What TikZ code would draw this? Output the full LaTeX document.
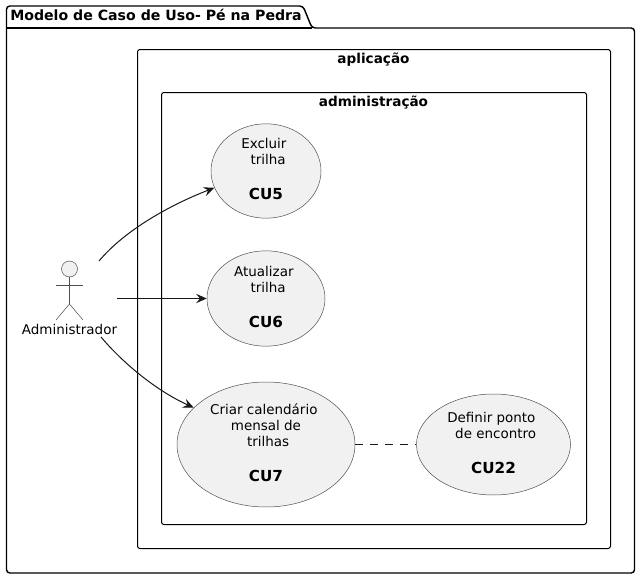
\documentclass[tikz,border=0pt]{standalone}
\usepackage{fontspec}
\setmainfont{DejaVu Sans}
\usetikzlibrary{shapes.geometric,arrows.meta}
\definecolor{ucfill}{HTML}{F1F1F1}
\definecolor{ink}{HTML}{181818}
\definecolor{thin}{HTML}{505050}
\newcommand{\pd}{\kern3.2pt}
\newcommand{\cuname}[1]{{\fontsize{11.4}{14}\selectfont\bfseries #1}}
\tikzset{
  x=0.75pt,y=-0.75pt,
  usecase/.style={ellipse,draw=thin,fill=ucfill,line width=0.375pt,inner sep=0pt,align=center,
    font=\fontsize{10.1}{12}\selectfont},
  frame/.style={draw=black,line width=0.75pt,rounded corners=1.8pt},
  framelabel/.style={font=\fontsize{10.2}{12}\selectfont\bfseries,inner sep=0pt,anchor=base},
  link/.style={draw=ink,line width=0.75pt,-{Stealth[length=8pt,width=7pt,inset=3pt]}},
  actorline/.style={draw=thin,line width=0.375pt},
}
\begin{document}
\begin{tikzpicture}
\useasboundingbox (0,0) rectangle (640,578);
\fill[white] (0,0) rectangle (640,578);
% package
\draw[draw=black,line width=1.1pt,rounded corners=2.5pt]
  (6.5,28) -- (6.5,6) -- (303,6) -- (312,28) -- (634.5,28) -- (634.5,573) -- (6.5,573) -- cycle;
\draw[draw=black,line width=1.1pt] (6.5,28) -- (312,28);
\node[framelabel,font=\fontsize{10.6}{12}\selectfont\bfseries,anchor=base west] (pkg) at (10,20.5) {Modelo de Caso de Uso- Pé na Pedra};
% rectangles
\node[frame,minimum width=354.75pt,minimum height=374.25pt,inner sep=0pt,anchor=north west] (app) at (137,49) {};
\node[framelabel] (applabel) at (373.5,63) {aplicação};
\node[frame,minimum width=318.75pt,minimum height=324pt,inner sep=0pt,anchor=north west] (adm) at (161,92) {};
\node[framelabel] (admlabel) at (373.5,106) {administração};
% use cases
\node[usecase,minimum width=82.5pt,minimum height=67.5pt] (cu5) at (266,171)
  {\raisebox{2.4pt}{\begin{tabular}{@{}c@{}}Excluir\pd\\\pd trilha\\[14pt]\cuname{CU5}\end{tabular}}};
\node[usecase,minimum width=88.5pt,minimum height=71.5pt] (cu6) at (266,298.5)
  {\raisebox{2.4pt}{\begin{tabular}{@{}c@{}}Atualizar\pd\\\pd trilha\\[14pt]\cuname{CU6}\end{tabular}}};
\node[usecase,minimum width=133.5pt,minimum height=93.75pt] (cu7) at (266,444.5)
  {\raisebox{2.4pt}{\begin{tabular}{@{}c@{}}Criar calendário\pd\\mensal de\\\pd trilhas\\[14pt]\cuname{CU7}\end{tabular}}};
\node[usecase,minimum width=115.5pt,minimum height=75.75pt] (cu22) at (493.5,444.5)
  {\raisebox{2.4pt}{\begin{tabular}{@{}c@{}}Definir ponto\pd\\\pd de encontro\\[14pt]\cuname{CU22}\end{tabular}}};
% actor
\node[circle,draw=thin,fill=ucfill,line width=0.375pt,minimum size=12pt,inner sep=0pt] (head) at (69.5,269) {};
\coordinate (hip) at (69.5,304);
\coordinate (armL) at (56,285);
\coordinate (armR) at (83,285);
\coordinate (legL) at (56,320);
\coordinate (legR) at (83,320);
\draw[actorline] (head.south) -- (hip);
\draw[actorline] (armL) -- (armR);
\draw[actorline] (legL) -- (hip) -- (legR);
\node[font=\fontsize{10.1}{12}\selectfont,inner sep=0pt,anchor=base] (admin) at (69.5,334) {Administrador};
% connectors
\coordinate (s1) at (99,261);
\coordinate (s2) at (117,298.5);
\coordinate (s3) at (101,337);
\draw[link] (s1) .. controls (125,230) and (170,205) .. (cu5.198);
\draw[link] (s2) -- (cu6.west);
\draw[link] (s3) .. controls (122,362) and (155,390) .. (cu7.153);
\draw[draw=ink,line width=0.75pt,dash pattern=on 5.6pt off 5.6pt] (cu7.east) -- (cu22.west);
\end{tikzpicture}
\end{document}
